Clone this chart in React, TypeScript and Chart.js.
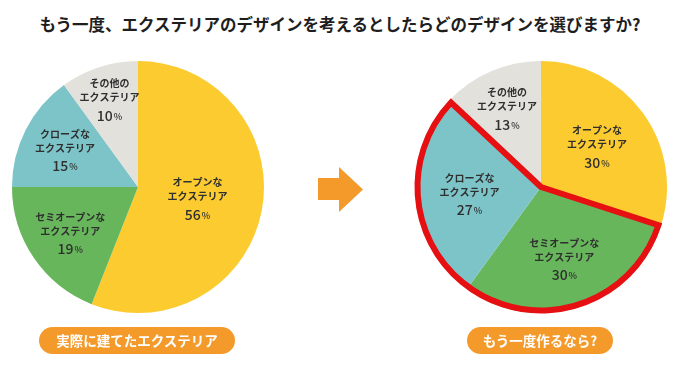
import React, { useEffect, useRef } from "react";
import { Chart, registerables } from "chart.js";
Chart.register(...registerables);

// ---- data ----
const titleText = "もう一度、エクステリアのデザインを考えるとしたらどのデザインを選びますか?";
const categoryLine1 = ["オープンな", "セミオープンな", "クローズな", "その他の"];
const categoryLine2 = ["エクステリア", "エクステリア", "エクステリア", "エクステリア"];
const builtValues = [56, 19, 15, 10];
const nextValues = [30, 30, 27, 13];
const builtCaption = "実際に建てたエクステリア";
const nextCaption = "もう一度作るなら?";
const highlightSlices = [1, 2];

// ---- styles / layout ----
const sliceColors = ["#FCCB2F", "#67B65B", "#7DC4C8", "#E3E1DC"];
const builtLabelRadius = [0.48, 0.65, 0.65, 0.73];
const nextLabelRadius = [0.55, 0.6, 0.57, 0.68];
const FONT = '"Noto Sans CJK JP", "Noto Sans", sans-serif';
const ORANGE = "#F39A2B";

const labelPlugin = {
  id: "sliceLabels",
  afterDatasetsDraw(chart: any) {
    const opts = chart.options.plugins.sliceLabels || {};
    const fr: number[] = opts.radius || [];
    const ctx = chart.ctx;
    const meta = chart.getDatasetMeta(0);
    const values = chart.data.datasets[0].data;
    ctx.save();
    ctx.fillStyle = "#2f2f2f";
    ctx.textBaseline = "middle";
    meta.data.forEach((arc: any, i: number) => {
      const p = arc.getProps(["x", "y", "startAngle", "endAngle", "outerRadius"], true);
      const mid = (p.startAngle + p.endAngle) / 2;
      const r = p.outerRadius * (fr[i] ?? 0.6);
      const cx = p.x + Math.cos(mid) * r;
      const cy = p.y + Math.sin(mid) * r;
      ctx.font = `bold 10px ${FONT}`;
      ctx.textAlign = "center";
      ctx.fillText(categoryLine1[i], cx, cy - 16);
      ctx.fillText(categoryLine2[i], cx, cy - 2);
      const num = String(values[i]);
      ctx.font = `500 14px ${FONT}`;
      const wn = ctx.measureText(num).width;
      ctx.font = `500 9px ${FONT}`;
      const wp = ctx.measureText("%").width;
      const x0 = cx - (wn + wp + 1) / 2;
      ctx.textAlign = "left";
      ctx.font = `500 14px ${FONT}`;
      ctx.fillText(num, x0, cy + 16);
      ctx.font = `500 9px ${FONT}`;
      ctx.fillText("%", x0 + wn + 1, cy + 17);
    });
    ctx.restore();
  },
};

const outlinePlugin = {
  id: "groupOutline",
  afterDatasetsDraw(chart: any) {
    const opts = chart.options.plugins.groupOutline || {};
    const idx: number[] = opts.slices || [];
    if (!idx.length) return;
    const meta = chart.getDatasetMeta(0);
    const a = meta.data[idx[0]].getProps(["x", "y", "startAngle", "outerRadius"], true);
    const b = meta.data[idx[idx.length - 1]].getProps(["endAngle"], true);
    const ctx = chart.ctx;
    const r = a.outerRadius - 2.5;
    ctx.save();
    ctx.strokeStyle = "#E60F12";
    ctx.lineWidth = 6;
    ctx.lineJoin = "miter";
    ctx.miterLimit = 10;
    ctx.beginPath();
    ctx.moveTo(a.x, a.y);
    ctx.lineTo(a.x + Math.cos(a.startAngle) * r, a.y + Math.sin(a.startAngle) * r);
    ctx.arc(a.x, a.y, r, a.startAngle, b.endAngle);
    ctx.closePath();
    ctx.stroke();
    ctx.restore();
  },
};

function Pie({ values, labelRadius, highlight, left }: any) {
  const ref = useRef<HTMLCanvasElement>(null);
  useEffect(() => {
    const chart = new Chart(ref.current!, {
      type: "pie",
      data: {
        labels: categoryLine1,
        datasets: [
          {
            data: values,
            backgroundColor: sliceColors,
            borderWidth: 0,
          },
        ],
      },
      options: {
        responsive: false,
        animation: false,
        radius: 126,
        layout: { padding: 0 },
        events: [],
        plugins: {
          legend: { display: false },
          tooltip: { enabled: false },
          sliceLabels: { radius: labelRadius },
          groupOutline: { slices: highlight },
        } as any,
      },
      plugins: [labelPlugin, outlinePlugin],
    });
    return () => chart.destroy();
  }, []);
  return (
    <canvas
      ref={ref}
      width={276}
      height={276}
      style={{ position: "absolute", left, top: 49, width: 276, height: 276 }}
    />
  );
}

function Pill({ text, cx, w }: any) {
  return (
    <div
      style={{
        position: "absolute",
        left: cx - w / 2,
        top: 327,
        width: w,
        height: 27,
        borderRadius: 14,
        background: ORANGE,
        color: "#fff",
        fontFamily: FONT,
        fontWeight: 700,
        fontSize: 13.5,
        lineHeight: "27px",
        textAlign: "center",
        whiteSpace: "nowrap",
      }}
    >
      {text}
    </div>
  );
}

export default function App() {
  return (
    <div
      style={{
        position: "absolute",
        left: 0,
        top: 0,
        width: 680,
        height: 374,
        background: "#fff",
        overflow: "hidden",
      }}
    >
      <div
        style={{
          position: "absolute",
          left: 0,
          top: 11,
          width: 680,
          textAlign: "center",
          fontFamily: FONT,
          fontWeight: 700,
          fontSize: 16.5,
          lineHeight: "26px",
          color: "#1e1e1e",
          whiteSpace: "nowrap",
        }}
      >
        {titleText}
      </div>
      <Pie values={builtValues} labelRadius={builtLabelRadius} highlight={[]} left={0} />
      <Pie values={nextValues} labelRadius={nextLabelRadius} highlight={highlightSlices} left={403} />
      <svg style={{ position: "absolute", left: 0, top: 0 }} width={680} height={374}>
        <polygon
          points="318,178 339,178 339,167 363,189.5 339,212 339,200 318,200"
          fill={ORANGE}
        />
      </svg>
      <Pill text={builtCaption} cx={137} w={196} />
      <Pill text={nextCaption} cx={540} w={146} />
    </div>
  );
}
